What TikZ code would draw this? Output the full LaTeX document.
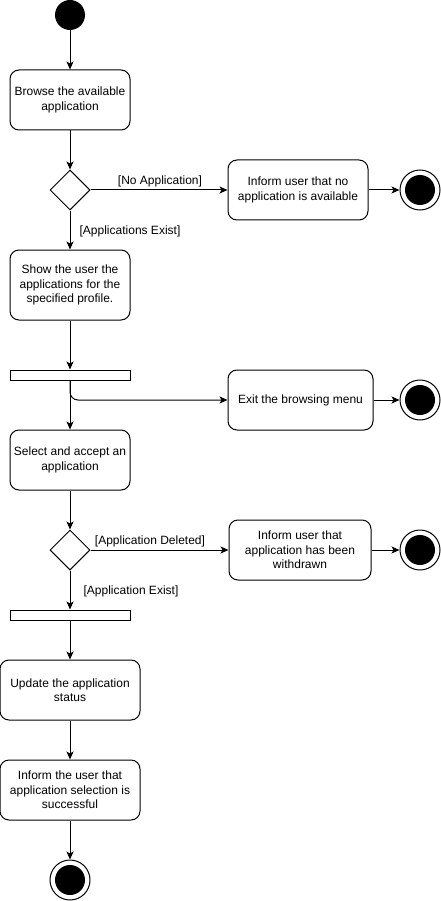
\documentclass[tikz,border=0pt]{standalone}
\usepackage{fontspec}
\setmainfont{Liberation Sans}
\usetikzlibrary{arrows.meta,shapes.geometric}
\begin{document}
\begin{tikzpicture}[x=1pt,y=-1pt,
  every node/.style={font=\fontsize{12}{14.5}\selectfont},
  act/.style={draw, line width=1pt, rounded corners=9pt, align=center, inner sep=0pt},
  bar/.style={draw, line width=1pt, fill=white, minimum width=120pt, minimum height=10pt, inner sep=0pt},
  dec/.style={draw, line width=1pt, diamond, minimum width=40pt, minimum height=40pt, inner sep=0pt},
  startnode/.style={circle, fill=black, minimum size=30pt, inner sep=0pt},
  endnode/.style={circle, draw, line width=1pt, minimum size=40pt, inner sep=0pt, path picture={\fill (path picture bounding box.center) circle (15pt);}},
  flow/.style={line width=1pt, -{Stealth[length=8pt,width=7pt,inset=2pt]}},
  guard/.style={inner sep=0pt}
]
\useasboundingbox (0,0) rectangle (441,901);

\node[startnode] (start) at (70,15) {};
\node[act, minimum width=120pt, minimum height=60pt] (browse) at (70,100) {Browse the available\\application};
\node[dec] (d1) at (70,190) {};
\node[act, minimum width=140pt, minimum height=60pt] (noapp) at (298,190) {Inform user that no\\application is available};
\node[endnode] (e1) at (420,190) {};
\node[act, minimum width=120pt, minimum height=70pt] (show) at (70,285) {Show the user the\\applications for the\\specified profile.};
\node[bar] (bar1) at (70,375) {};
\node[act, minimum width=145pt, minimum height=60pt] (exit) at (300.5,400) {Exit the browsing menu};
\node[endnode] (e2) at (420,400) {};
\node[act, minimum width=120pt, minimum height=60pt] (select) at (70,460) {Select and accept an\\application};
\node[dec] (d2) at (70,550) {};
\node[act, minimum width=142pt, minimum height=60pt] (withdrawn) at (300,550) {Inform user that\\application has been\\withdrawn};
\node[endnode] (e3) at (420,550) {};
\node[bar] (bar2) at (70,615) {};
\node[act, minimum width=140pt, minimum height=60pt] (update) at (70,690) {Update the application\\status};
\node[act, minimum width=140pt, minimum height=60pt] (success) at (70,790) {Inform the user that\\application selection is\\successful};
\node[endnode] (e4) at (70,880) {};

\node[guard] (g1) at (160,181) {[No Application]};
\node[guard] (g2) at (130,231) {[Applications Exist]};
\node[guard] (g3) at (150,541) {[Application Deleted]};
\node[guard] (g4) at (131,591) {[Application Exist]};

\draw[flow] (start) -- (browse);
\draw[flow] (browse) -- (d1);
\draw[flow] (d1) -- (noapp);
\draw[flow] (noapp) -- (e1);
\draw[flow] (d1) -- (show);
\draw[flow] (show) -- (bar1);
\draw[flow] (bar1) -- (select);
\draw[flow, rounded corners=8pt] (bar1.south) |- (exit.west);
\draw[flow] (exit) -- (e2);
\draw[flow] (select) -- (d2);
\draw[flow] (d2) -- (withdrawn);
\draw[flow] (withdrawn) -- (e3);
\draw[flow] (d2) -- (bar2);
\draw[flow] (bar2) -- (update);
\draw[flow] (update) -- (success);
\draw[flow] (success) -- (e4);
\end{tikzpicture}
\end{document}
